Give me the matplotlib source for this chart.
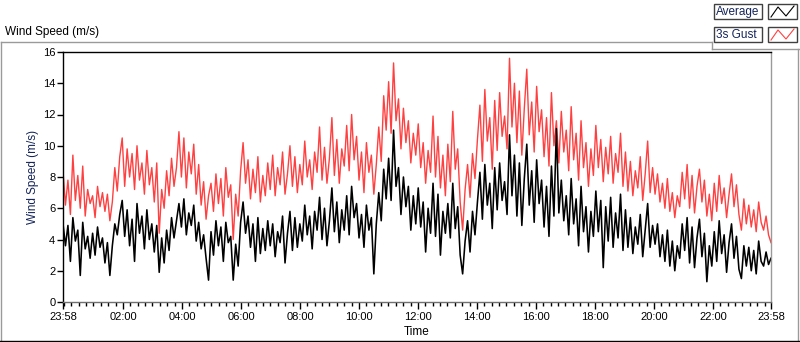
import numpy as np
import pandas as pd
import matplotlib
matplotlib.use("Agg")
import matplotlib.pyplot as plt
import matplotlib.dates as mdates
from matplotlib.lines import Line2D
from matplotlib.patches import Rectangle

plt.rcParams["font.family"] = ["Liberation Sans", "DejaVu Sans"]

# ---------------------------------------------------------------------------
# data: wind speed (m/s), 5-minute samples from 23:58 to 23:58 next day
start = pd.Timestamp("2020-01-01 23:58")
end = pd.Timestamp("2020-01-02 23:58")

gust = [
    8.4, 6.2, 7.8, 5.6, 9.4, 6.5, 8.1, 6.0, 8.7, 5.5, 7.2, 6.3,
    6.8, 5.4, 7.4, 6.1, 7.0, 5.8, 6.9, 5.2, 6.4, 8.6, 7.1, 9.3,
    10.5, 7.4, 9.8, 8.0, 9.5, 7.2, 10.0, 7.8, 8.9, 6.9, 9.7, 7.5,
    8.6, 6.4, 8.9, 4.4, 7.2, 6.0, 8.4, 6.8, 9.2, 7.4, 8.6, 10.9,
    8.0, 10.5, 7.3, 9.6, 8.2, 10.1, 6.9, 8.8, 6.2, 7.7, 5.3, 6.8,
    7.6, 5.8, 8.2, 6.3, 7.9, 5.5, 8.6, 6.7, 7.5, 4.0, 6.9, 5.5,
    8.4, 10.2, 7.6, 9.1, 6.6, 8.5, 7.0, 9.3, 6.4, 8.1, 6.8, 8.9,
    7.2, 9.4, 6.8, 8.6, 7.5, 9.6, 6.9, 8.2, 10.0, 7.4, 9.3, 7.0,
    8.8, 7.5, 10.3, 8.0, 9.1, 7.2, 9.6, 8.3, 11.2, 7.8, 9.9, 7.6,
    9.2, 11.8, 8.1, 10.4, 7.6, 9.8, 8.7, 11.3, 8.4, 12.0, 9.1, 10.6,
    7.8, 9.6, 7.0, 10.2, 8.3, 9.4, 6.9, 8.8, 11.2, 9.0, 13.2, 11.0,
    14.1, 10.8, 15.3, 11.6, 13.0, 9.8, 12.4, 10.2, 11.6, 8.9, 10.8, 9.4,
    11.4, 8.6, 10.2, 7.6, 9.7, 8.3, 11.9, 8.0, 10.6, 7.3, 9.4, 6.8,
    10.1, 7.7, 12.2, 8.5, 9.8, 6.4, 4.6, 7.2, 8.8, 6.7, 9.5, 7.9,
    10.4, 12.6, 9.0, 13.6, 10.3, 11.8, 8.5, 12.9, 9.7, 13.4, 10.6, 11.9,
    9.8, 15.6, 11.2, 14.0, 10.2, 13.5, 9.4, 12.4, 14.9, 10.7, 12.8, 9.6,
    13.8, 10.9, 12.3, 9.3, 11.8, 8.7, 13.4, 10.0, 11.6, 8.9, 12.2, 9.6,
    11.0, 8.4, 12.5, 9.1, 10.8, 7.8, 11.6, 8.6, 10.2, 7.4, 9.8, 8.1,
    11.3, 8.6, 10.4, 7.7, 9.9, 8.2, 10.6, 7.6, 9.5, 8.3, 10.8, 7.4,
    9.6, 7.1, 9.0, 6.8, 8.4, 7.3, 9.3, 6.5, 8.2, 10.3, 7.0, 8.6,
    6.9, 8.2, 6.4, 7.6, 6.0, 7.9, 5.8, 7.0, 5.4, 6.8, 6.1, 8.3,
    6.6, 8.8, 6.0, 8.1, 5.7, 7.4, 8.5, 6.4, 7.8, 5.5, 6.9, 5.2,
    7.6, 5.8, 8.1, 6.3, 7.3, 5.4, 6.9, 8.2, 6.1, 7.5, 5.6, 4.6,
    6.6, 5.0, 6.2, 4.8, 5.9, 4.5, 6.4, 5.1, 4.6, 5.5, 4.3, 3.8,
]

average = [
    5.0, 3.6, 4.9, 2.6, 5.4, 3.9, 4.6, 1.7, 5.1, 3.4, 4.2, 2.8,
    4.4, 3.0, 4.8, 3.5, 4.1, 2.5, 3.8, 1.7, 3.6, 5.0, 4.3, 5.6,
    6.5, 4.2, 5.9, 3.6, 5.3, 2.6, 6.3, 4.4, 5.5, 3.4, 5.9, 4.0,
    5.0, 3.2, 4.9, 1.9, 4.1, 2.5, 4.6, 3.3, 5.4, 4.1, 5.2, 6.3,
    4.8, 6.6, 4.3, 5.7, 4.9, 6.2, 3.9, 5.1, 3.4, 4.3, 2.8, 1.4,
    4.5, 3.0, 5.2, 3.6, 4.8, 2.6, 5.1, 3.8, 4.2, 1.4, 3.7, 2.3,
    5.1, 6.4, 4.4, 5.5, 3.5, 5.0, 2.6, 5.4, 3.1, 4.7, 3.3, 5.2,
    3.6, 5.0, 2.9, 4.5, 3.8, 5.5, 2.5, 4.4, 5.8, 3.3, 5.4, 3.5,
    5.0, 3.9, 6.2, 4.3, 5.5, 3.4, 5.8, 4.6, 6.7, 4.0, 6.0, 3.6,
    5.2, 7.3, 4.5, 6.4, 3.8, 5.9, 4.6, 6.8, 4.3, 7.4, 5.4, 6.3,
    4.1, 5.6, 3.5, 6.2, 4.6, 5.4, 1.8, 5.0, 7.0, 5.2, 8.5, 6.6,
    9.2, 6.5, 11.0, 7.4, 8.6, 5.6, 8.0, 6.1, 7.4, 4.6, 6.8, 5.0,
    7.3, 4.8, 6.4, 3.2, 6.0, 4.4, 7.6, 4.2, 6.9, 3.0, 5.8, 4.4,
    6.3, 4.1, 7.6, 4.7, 6.1, 3.0, 1.8, 3.9, 5.2, 3.2, 5.8, 4.3,
    6.4, 8.3, 5.3, 8.8, 6.2, 7.6, 4.7, 8.6, 5.9, 8.9, 6.5, 7.7,
    5.6, 10.7, 6.8, 9.4, 5.5, 8.9, 4.9, 7.9, 10.1, 6.2, 8.4, 5.1,
    9.1, 6.3, 7.8, 4.8, 7.4, 4.2, 8.7, 5.5, 11.1, 5.7, 7.8, 5.2,
    6.8, 4.3, 7.9, 5.0, 6.6, 3.6, 7.4, 4.5, 6.1, 3.2, 5.8, 4.2,
    7.1, 4.5, 6.5, 2.2, 6.1, 3.9, 6.7, 3.5, 5.7, 4.1, 6.9, 3.3,
    5.9, 3.5, 5.4, 3.1, 4.8, 3.7, 5.6, 2.9, 4.6, 6.3, 3.5, 4.9,
    3.7, 5.0, 2.9, 4.3, 2.6, 4.6, 2.3, 3.9, 2.0, 3.6, 2.8, 5.0,
    3.3, 5.4, 2.5, 4.8, 2.2, 4.1, 5.3, 2.9, 4.4, 1.3, 3.6, 2.3,
    4.5, 2.6, 5.2, 3.1, 4.3, 1.9, 3.8, 5.0, 2.8, 4.2, 2.1, 1.5,
    3.6, 2.3, 3.5, 2.0, 3.3, 1.8, 3.9, 2.6, 2.3, 3.2, 2.4, 2.8,
]

y_ticks = [0, 2, 4, 6, 8, 10, 12, 14, 16]
series_names = ["Average", "3s Gust"]

RED = "#ff4040"
NAVY = "#14245a"
GRAY = "#9a9a9a"

# ---------------------------------------------------------------------------
W, H = 800, 342
fig = plt.figure(figsize=(W / 100, H / 100), dpi=100)


def fx(px):
    return px / W


def fy(py):
    return 1 - py / H


ax = fig.add_axes([fx(63), fy(302), 708 / W, 250 / H])

times = pd.date_range(start, end, periods=len(gust))
ax.plot(times, gust, color=RED, lw=1.0)
ax.plot(times, average, color="black", lw=1.15)

ax.set_xlim(start, end)
ax.set_ylim(0, 16)
ax.set_yticks(y_ticks)

major = [start] + list(pd.date_range("2020-01-02 02:00", "2020-01-02 22:00", freq="2h")) + [end]
minor = pd.date_range("2020-01-02 00:00", "2020-01-02 23:45", freq="15min")
ax.set_xticks(mdates.date2num(major))
ax.set_xticks(mdates.date2num(minor), minor=True)
ax.xaxis.set_major_formatter(mdates.DateFormatter("%H:%M"))

ax.tick_params(axis="both", which="major", labelsize=8, length=4, width=1,
               pad=1.5, colors="black")
ax.tick_params(axis="x", which="major", length=5, pad=2)
ax.tick_params(axis="x", which="minor", length=3, width=1)
ax.set_xlabel("Time", fontsize=8.5, labelpad=3)
ax.set_ylabel("Wind Speed (m/s)", fontsize=8.5, color=NAVY, labelpad=3)

ax.spines["top"].set_color("black")
ax.spines["left"].set_color("black")
ax.spines["right"].set_color(GRAY)
ax.spines["bottom"].set_color("#707070")
for s in ax.spines.values():
    s.set_linewidth(1)

# chart title and outer frame
fig.text(fx(5), fy(32), "Wind Speed (m/s)", fontsize=8.5, color="black",
         ha="left", va="center")
frame = [
    ([0.5, 712], [42, 42]),
    ([712, 712], [42, 49]),
    ([712, 799], [49, 49]),
    ([0.5, 0.5], [42, 342]),
    ([798, 798], [49, 342]),
    ([0, 800], [341, 341]),
]
for xs, ys in frame:
    col = "black" if ys == [341, 341] else GRAY
    fig.add_artist(Line2D([fx(v) for v in xs], [fy(v) for v in ys],
                          transform=fig.transFigure, color=col, lw=1))

# legend boxes
for i, (name, col) in enumerate(zip(series_names, ["black", RED])):
    top = 4 + i * 23
    fig.add_artist(Rectangle((fx(714), fy(top + 15)), 48 / W, 15 / H,
                             transform=fig.transFigure, fill=False,
                             ec="#404040", lw=1))
    fig.add_artist(Rectangle((fx(768), fy(top + 15)), 29 / W, 15 / H,
                             transform=fig.transFigure, fill=False,
                             ec="#404040", lw=1))
    fig.text(fx(716), fy(top + 7.5), name, fontsize=8.5, color=NAVY,
             ha="left", va="center")
    zx = [771, 778, 786, 794]
    zy = [top + 13, top + 3, top + 12, top + 2]
    fig.add_artist(Line2D([fx(v) for v in zx], [fy(v) for v in zy],
                          transform=fig.transFigure, color=col, lw=0.8))

fig.savefig("out.png", dpi=100)
